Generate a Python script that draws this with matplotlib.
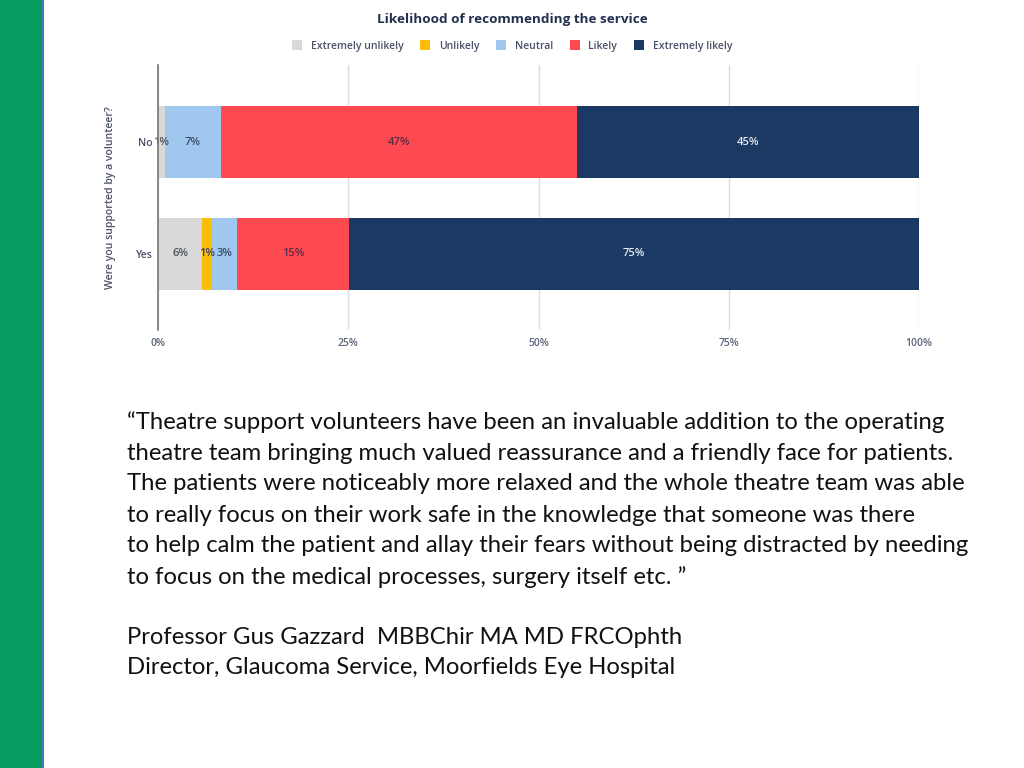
import numpy as np
import matplotlib.pyplot as plt
from matplotlib.patches import Rectangle

# 数据（从图中读取，单位 %）
groups = ['No', 'Yes']
categories = ['Extremely unlikely', 'Unlikely', 'Neutral', 'Likely', 'Extremely likely']
colors = ['#d9d9d9', '#fbbd08', '#a0c8ee', '#fd4a52', '#1b3a63']
no_vals = [0.9, 0.0, 7.4, 46.8, 44.9]
yes_vals = [5.8, 1.3, 3.3, 14.7, 74.9]
label_colors = ['#4b5160', '#3b3f5c', '#3b4a6b', '#5a2b45', '#e8ecf4']

xticks = [0, 25, 50, 75, 100]
xticklabels = ['0%', '25%', '50%', '75%', '100%']

quote_lines = [
    '\u201cTheatre support volunteers have been an invaluable addition to the operating',
    'theatre team bringing much valued reassurance and a friendly face for patients.',
    'The patients were noticeably more relaxed and the whole theatre team was able',
    'to really focus on their work safe in the knowledge that someone was there',
    'to help calm the patient and allay their fears without being distracted by needing',
    'to focus on the medical processes, surgery itself etc. \u201d',
]
author_lines = [
    'Professor Gus Gazzard  MBBChir MA MD FRCOphth',
    'Director, Glaucoma Service, Moorfields Eye Hospital',
]

W, H = 1024, 768
fig = plt.figure(figsize=(W / 100, H / 100), dpi=100)
fig.patch.set_facecolor('white')

# 左侧绿色条
fig.patches.append(Rectangle((0, 0), 43 / W, 1, transform=fig.transFigure,
                             facecolor='#079b60', edgecolor='none'))
fig.patches.append(Rectangle((42 / W, 0), 2 / W, 1, transform=fig.transFigure,
                             facecolor='#3a7fc0', edgecolor='none'))

# ---- 堆叠条形图 ----
ax = fig.add_axes([158 / W, 1 - 330 / H, (919 - 158) / W, (330 - 65) / H])
data = np.array([no_vals, yes_vals])
ypos = np.arange(len(groups))
left = np.zeros(len(groups))
for j, cat in enumerate(categories):
    vals = data[:, j]
    ax.barh(ypos, vals, left=left, height=0.65, color=colors[j],
            label=cat, zorder=3)
    for i in range(len(groups)):
        if vals[i] > 0:
            ax.text(left[i] + vals[i] / 2, ypos[i], f'{round(vals[i]):d}%',
                    ha='center', va='center', fontsize=8, color=label_colors[j],
                    family='Open Sans', fontweight='semibold', zorder=4)
    left += vals

ax.set_xlim(0, 100)
ax.set_ylim(1.68, -0.69)
ax.set_xticks(xticks)
ax.set_xticklabels(xticklabels, fontsize=7.5, color='#5a6378', family='Open Sans',
                   fontweight='semibold')
ax.tick_params(axis='x', length=0, pad=6)
ax.set_yticks(ypos)
ax.set_yticklabels(groups, fontsize=7.5, color='#4a5168', family='Open Sans',
                   fontweight='semibold')
ax.tick_params(axis='y', length=0, pad=4)
ax.xaxis.grid(True, color='#dcdcdc', linewidth=1, zorder=0)
for s in ['top', 'right', 'bottom']:
    ax.spines[s].set_visible(False)
ax.spines['left'].set_color('#777777')
ax.spines['left'].set_linewidth(1.2)
ax.spines['left'].set_zorder(5)
ax.set_ylabel('Were you supported by a volunteer?', fontsize=7.6, color='#4a5168',
              family='Open Sans', fontweight='semibold', labelpad=14)

fig.text(512 / W, 1 - 20 / H, 'Likelihood of recommending the service',
         ha='center', va='center', fontsize=9.7, fontweight='bold',
         color='#22304f', family='Open Sans')
ax.legend(loc='center', bbox_to_anchor=(0.5, (H - 46) / H), bbox_transform=fig.transFigure,
          ncol=5, frameon=False, handlelength=1.0, handleheight=1.0,
          columnspacing=1.6, handletextpad=0.8, labelcolor='#4a5168',
          prop={'family': 'Open Sans', 'size': 7.5, 'weight': 'semibold'})

# ---- 引用文字 ----
for k, line in enumerate(quote_lines):
    fig.text(127 / W, 1 - (422 + 31 * k) / H, line, ha='left', va='center',
             fontsize=17.2, color='#111111', family='Lato')
for k, line in enumerate(author_lines):
    fig.text(127 / W, 1 - (637 + 31 * k) / H, line, ha='left', va='center',
             fontsize=17.2, color='#111111', family='Lato')

fig.savefig('out.png', dpi=100)
